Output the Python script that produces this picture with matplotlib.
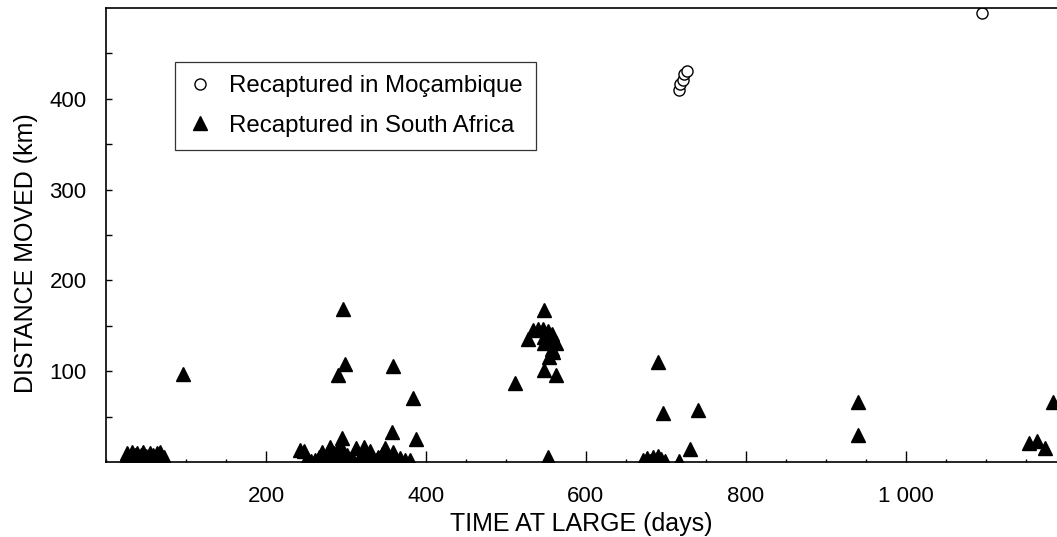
import matplotlib
matplotlib.use("Agg")
import matplotlib.pyplot as plt
from matplotlib.ticker import MultipleLocator, FixedLocator, FuncFormatter

plt.rcParams['font.family'] = ['Liberation Sans', 'DejaVu Sans']

# recaptured in Mocambique (days, km)
moz_days = [716, 718, 721, 723, 726, 1095]
moz_km = [410, 416, 421, 427, 431, 494]

# recaptured in South Africa (days, km)
sa_days = [
    # first cluster
    26, 32, 39, 46, 55, 64, 67, 24, 28, 30, 34, 36, 38, 42, 44, 48, 50, 52, 57, 59,
    61, 63, 66, 69, 71, 73, 41, 53, 35, 60,
    96,
    # second cluster
    243, 251, 270, 280, 295, 292, 296, 301, 276, 261, 313, 322, 317, 326, 334, 349,
    359, 355, 367, 374, 380, 280, 309, 357, 387, 384, 296, 299, 290, 359,
    247, 285, 288, 305, 340, 345, 352, 363, 256, 266, 330, 338,
    # third cluster
    534, 540, 546, 553, 558, 527, 547, 547, 559, 563, 557, 559, 554, 548, 547, 562,
    511, 553,
    # around 700
    671, 676, 680, 684, 688, 690, 694, 699, 716, 730, 690, 697, 740,
    940, 940,
    1154, 1164, 1174, 1184,
]
sa_km = [
    10, 11, 10, 11, 10, 10, 11, 3, 6, 1, 4, 8, 2, 5, 8, 3, 7, 1, 5, 8,
    2, 6, 3, 7, 2, 5, 1, 4, 1, 4,
    97,
    13, 4, 11, 17, 26, 19, 11, 8, 4, 2, 15, 17, 6, 8, 2, 15,
    11, 4, 4, 2, 2, 2, 2, 33, 25, 70, 168, 108, 96, 106,
    12, 10, 5, 3, 5, 9, 6, 3, 1, 6, 12, 2,
    145, 146, 146, 144, 141, 135, 138, 131, 134, 131, 125, 121, 116, 167, 101, 96,
    87, 5,
    2, 4, 1, 5, 2, 7, 3, 1, 1, 14, 110, 54, 57,
    66, 30,
    21, 23, 15, 66,
]

fig = plt.figure(figsize=(10.57, 5.37), dpi=100)
ax = fig.add_axes([106 / 1057, 1 - 462 / 537, 951 / 1057, 454 / 537])

ax.plot(moz_days, moz_km, linestyle='none', marker='o', ms=8, mfc='white',
        mec='black', mew=1.0, label='Recaptured in Moçambique')
ax.plot(sa_days, sa_km, linestyle='none', marker='^', ms=9.5, color='black',
        mec='black', label='Recaptured in South Africa')

ax.set_xlim(0, 1189)
ax.set_ylim(0, 500)

ax.spines['right'].set_visible(False)
for s in ['left', 'bottom', 'top']:
    ax.spines[s].set_linewidth(1.2)

ax.xaxis.set_major_locator(FixedLocator([200, 400, 600, 800, 1000]))
ax.xaxis.set_minor_locator(MultipleLocator(50))
ax.xaxis.set_major_formatter(FuncFormatter(lambda v, p: f"{int(v):,}".replace(",", " ")))
ax.yaxis.set_major_locator(FixedLocator([100, 200, 300, 400]))
ax.yaxis.set_minor_locator(FixedLocator([50, 150, 250, 350, 450]))

ax.tick_params(axis='x', which='major', direction='in', length=8, width=1, pad=17, labelsize=16)
ax.tick_params(axis='x', which='minor', direction='in', length=2.5, width=1)
ax.tick_params(axis='y', which='both', direction='in', length=4, width=1, pad=14, labelsize=16)
ax.tick_params(top=False, right=False, which='both')

ax.set_xlabel('TIME AT LARGE (days)', fontsize=18, labelpad=4)
ax.set_ylabel('DISTANCE MOVED (km)', fontsize=18)
ax.yaxis.set_label_coords(-0.071, 0.46)

leg = ax.legend(loc='upper left', bbox_to_anchor=(0.0726, 0.881), borderaxespad=0,
                fontsize=17.3, frameon=True, fancybox=False, edgecolor='black',
                handletextpad=0.7, borderpad=0.55, labelspacing=0.72, handlelength=1.0)
leg.get_frame().set_linewidth(0.9)

fig.savefig('out.png', dpi=100)
